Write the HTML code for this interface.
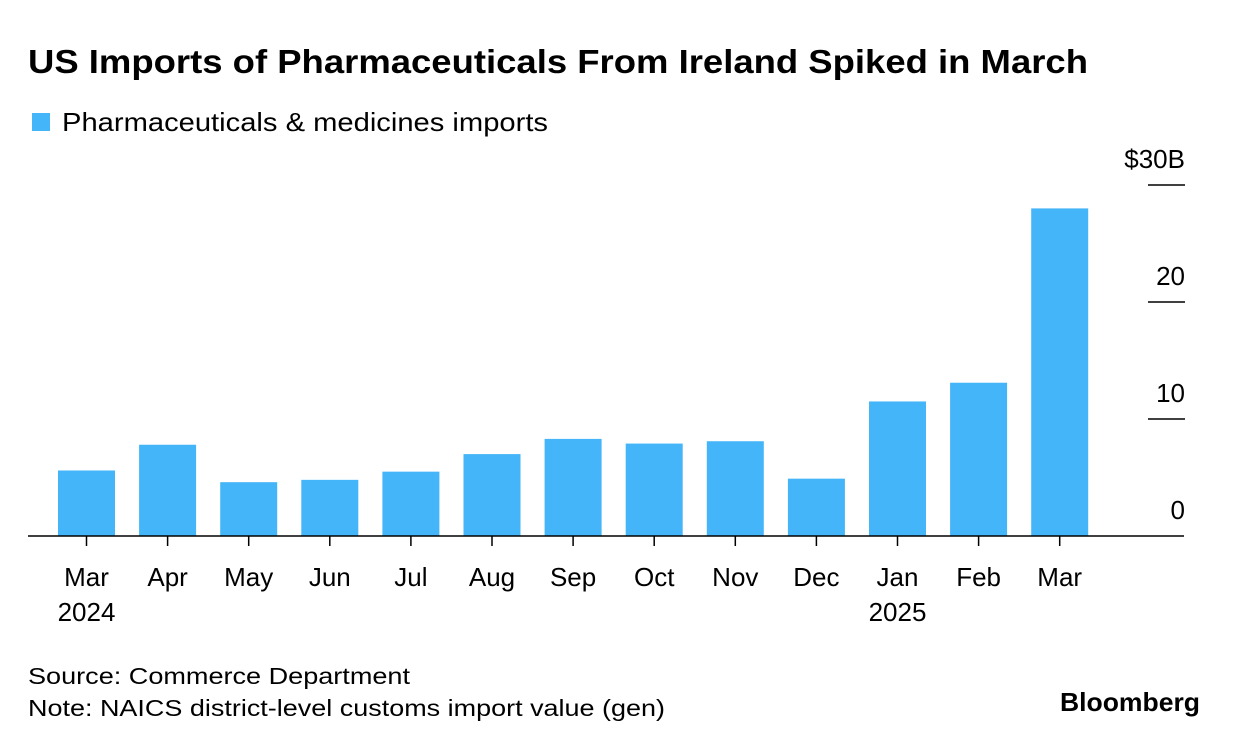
<!DOCTYPE html>
<html><head><meta charset="utf-8"><style>
body{margin:0;background:#fff;width:1240px;height:746px;overflow:hidden;font-family:"Liberation Sans",sans-serif;}
svg text{font-family:"Liberation Sans",sans-serif;}
</style></head><body>
<svg width="1240" height="746">
<text x="28" y="73" font-size="33" font-weight="bold" fill="#000" textLength="1060" lengthAdjust="spacingAndGlyphs">US Imports of Pharmaceuticals From Ireland Spiked in March</text>
<rect x="32" y="113" width="18" height="18" fill="#44b5f8"/>
<text x="62" y="131" font-size="26" fill="#000" textLength="486" lengthAdjust="spacingAndGlyphs">Pharmaceuticals &amp; medicines imports</text>
<g id="plot"></g>
<text x="28" y="684" font-size="23" fill="#000" textLength="382" lengthAdjust="spacingAndGlyphs">Source: Commerce Department</text>
<text x="28" y="716" font-size="23" fill="#000" textLength="637" lengthAdjust="spacingAndGlyphs">Note: NAICS district-level customs import value (gen)</text>
<text x="1200" y="711" font-size="26" font-weight="bold" text-anchor="end" fill="#000" textLength="140" lengthAdjust="spacingAndGlyphs">Bloomberg</text>
</svg>
<script>
const months=["Mar","Apr","May","Jun","Jul","Aug","Sep","Oct","Nov","Dec","Jan","Feb","Mar"];
const years=["2024","","","","","","","","","","2025","",""];
const values=[5.6,7.8,4.6,4.8,5.5,7.0,8.3,7.9,8.1,4.9,11.5,13.1,28.0];
const yTicks=[0,10,20,30];
const yTickLabels=["0","10","20","$30B"];
const NS="http://www.w3.org/2000/svg";
const g=document.getElementById("plot");
const y=v=>536-v*11.7;
const x=i=>86.5+i*81.1;
const bw=57;
function mk(tag,attrs){const e=document.createElementNS(NS,tag);for(const k in attrs)e.setAttribute(k,attrs[k]);g.appendChild(e);return e;}
yTicks.forEach((t,i)=>{
  if(t!==0){const l=mk("line",{x1:1148,x2:1185,y1:y(t),y2:y(t),stroke:"#000","stroke-width":1.5});
  
  }
  const tx=mk("text",{x:1185,y:y(t)-17,"font-size":26,"text-anchor":"end",fill:"#000"});
  tx.textContent=yTickLabels[i];
  
  
});
values.forEach((v,i)=>{
  const r=mk("rect",{x:x(i)-bw/2,y:y(v),width:bw,height:536-y(v),fill:"#44b5f8"});
  
  
  const tk=mk("line",{x1:x(i),x2:x(i),y1:536,y2:546,stroke:"#000","stroke-width":1.5});
  
  
  const t=mk("text",{x:x(i),y:586,"font-size":26,"text-anchor":"middle",fill:"#000"});
  t.textContent=months[i];
  
  
  if(years[i]){const yt=mk("text",{x:x(i),y:621,"font-size":26,"text-anchor":"middle",fill:"#000"});
  yt.textContent=years[i];
  
  }
});
const ax=mk("line",{x1:28,x2:1184,y1:536,y2:536,stroke:"#000","stroke-width":1.5});


</script>
</body></html>
